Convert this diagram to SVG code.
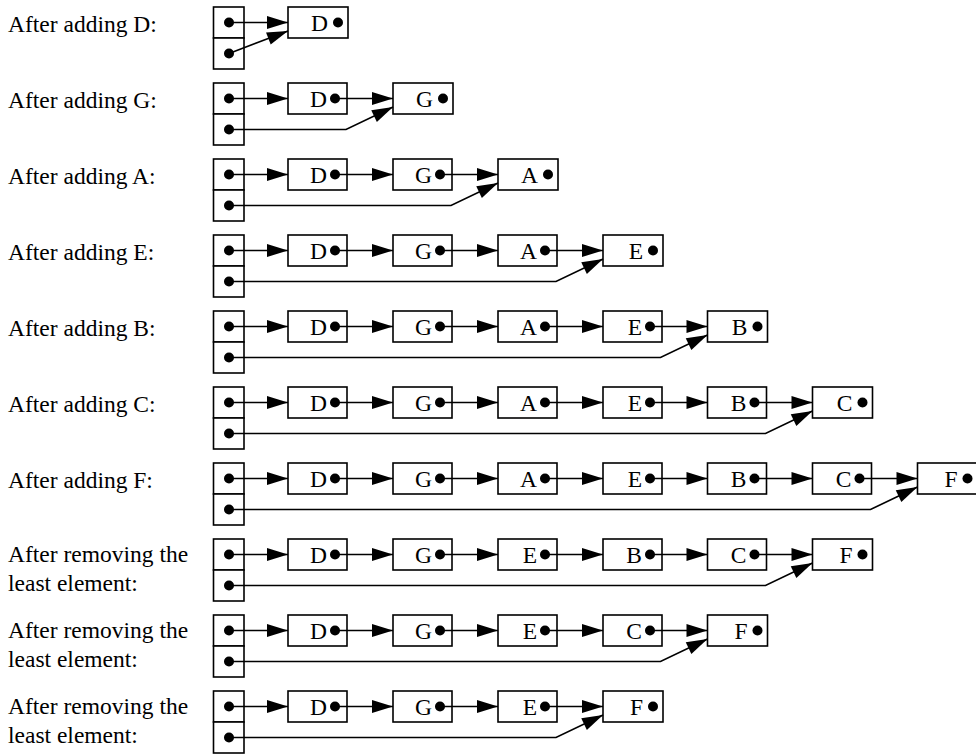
<svg xmlns="http://www.w3.org/2000/svg" width="976" height="756" viewBox="0 0 976 756">
<style>
text{font-family:"Liberation Serif","Times New Roman",serif;font-size:23.5px;fill:#000}
.lbl{text-anchor:start}
.key{text-anchor:end}
.box{fill:#fff;stroke:#000;stroke-width:1.6}
.dot{fill:#000}
.con{fill:none;stroke:#000;stroke-width:1.6;marker-end:url(#ah)}
</style>
<defs>
<marker id="ah" markerUnits="userSpaceOnUse" markerWidth="22" markerHeight="13" refX="21" refY="6.5" orient="auto" overflow="visible">
<path d="M0,0 L21,6.5 L0,13 Z" fill="#000"/>
</marker>
<g id="hdr">
<rect class="box" x="213.5" y="0" width="30.5" height="31"/>
<rect class="box" x="213.5" y="31" width="30.5" height="31"/>
<circle class="dot" cx="229" cy="15.5" r="5"/>
<circle class="dot" cx="229" cy="46.5" r="5"/>
</g>
</defs>

<!-- Row 1 -->
<g id="row1" transform="translate(0,7)">
<text class="lbl" x="8" y="25">After adding D:</text>
<g id="r1-head"><use href="#hdr"/></g>
<g id="r1-D"><rect class="box" x="288" y="0" width="60" height="31"/><text class="key" x="328" y="24">D</text><circle class="dot" cx="338" cy="15.5" r="5"/></g>
<g id="r1-connectors">
<line class="con" x1="229" y1="15.5" x2="288" y2="15.5"/>
<polyline class="con" points="229,46.5 288,24"/>
</g>
</g>

<!-- Row 2 -->
<g id="row2" transform="translate(0,83)">
<text class="lbl" x="8" y="25">After adding G:</text>
<g id="r2-head"><use href="#hdr"/></g>
<g id="r2-D"><rect class="box" x="288" y="0" width="59" height="31"/><text class="key" x="327" y="24">D</text><circle class="dot" cx="335" cy="15.5" r="5"/></g>
<g id="r2-G"><rect class="box" x="393" y="0" width="60" height="31"/><text class="key" x="433" y="24">G</text><circle class="dot" cx="443" cy="15.5" r="5"/></g>
<g id="r2-connectors">
<line class="con" x1="229" y1="15.5" x2="288" y2="15.5"/>
<line class="con" x1="335" y1="15.5" x2="393" y2="15.5"/>
<polyline class="con" points="229,46.5 346,46.5 393,24"/>
</g>
</g>

<!-- Row 3 -->
<g id="row3" transform="translate(0,159)">
<text class="lbl" x="8" y="25">After adding A:</text>
<g id="r3-head"><use href="#hdr"/></g>
<g id="r3-D"><rect class="box" x="288" y="0" width="59" height="31"/><text class="key" x="327" y="24">D</text><circle class="dot" cx="335" cy="15.5" r="5"/></g>
<g id="r3-G"><rect class="box" x="393" y="0" width="59" height="31"/><text class="key" x="432" y="24">G</text><circle class="dot" cx="440" cy="15.5" r="5"/></g>
<g id="r3-A"><rect class="box" x="498" y="0" width="60" height="31"/><text class="key" x="538" y="24">A</text><circle class="dot" cx="548" cy="15.5" r="5"/></g>
<g id="r3-connectors">
<line class="con" x1="229" y1="15.5" x2="288" y2="15.5"/>
<line class="con" x1="335" y1="15.5" x2="393" y2="15.5"/>
<line class="con" x1="440" y1="15.5" x2="498" y2="15.5"/>
<polyline class="con" points="229,46.5 451,46.5 498,24"/>
</g>
</g>

<!-- Row 4 -->
<g id="row4" transform="translate(0,235)">
<text class="lbl" x="8" y="25">After adding E:</text>
<g id="r4-head"><use href="#hdr"/></g>
<g id="r4-D"><rect class="box" x="288" y="0" width="59" height="31"/><text class="key" x="327" y="24">D</text><circle class="dot" cx="335" cy="15.5" r="5"/></g>
<g id="r4-G"><rect class="box" x="393" y="0" width="59" height="31"/><text class="key" x="432" y="24">G</text><circle class="dot" cx="440" cy="15.5" r="5"/></g>
<g id="r4-A"><rect class="box" x="498" y="0" width="59" height="31"/><text class="key" x="537" y="24">A</text><circle class="dot" cx="545" cy="15.5" r="5"/></g>
<g id="r4-E"><rect class="box" x="603" y="0" width="60" height="31"/><text class="key" x="643" y="24">E</text><circle class="dot" cx="653" cy="15.5" r="5"/></g>
<g id="r4-connectors">
<line class="con" x1="229" y1="15.5" x2="288" y2="15.5"/>
<line class="con" x1="335" y1="15.5" x2="393" y2="15.5"/>
<line class="con" x1="440" y1="15.5" x2="498" y2="15.5"/>
<line class="con" x1="545" y1="15.5" x2="603" y2="15.5"/>
<polyline class="con" points="229,46.5 556,46.5 603,24"/>
</g>
</g>

<!-- Row 5 -->
<g id="row5" transform="translate(0,311)">
<text class="lbl" x="8" y="25">After adding B:</text>
<g id="r5-head"><use href="#hdr"/></g>
<g id="r5-D"><rect class="box" x="288" y="0" width="59" height="31"/><text class="key" x="327" y="24">D</text><circle class="dot" cx="335" cy="15.5" r="5"/></g>
<g id="r5-G"><rect class="box" x="393" y="0" width="59" height="31"/><text class="key" x="432" y="24">G</text><circle class="dot" cx="440" cy="15.5" r="5"/></g>
<g id="r5-A"><rect class="box" x="498" y="0" width="59" height="31"/><text class="key" x="537" y="24">A</text><circle class="dot" cx="545" cy="15.5" r="5"/></g>
<g id="r5-E"><rect class="box" x="603" y="0" width="59" height="31"/><text class="key" x="642" y="24">E</text><circle class="dot" cx="650" cy="15.5" r="5"/></g>
<g id="r5-B"><rect class="box" x="707.5" y="0" width="60" height="31"/><text class="key" x="747.5" y="24">B</text><circle class="dot" cx="757.5" cy="15.5" r="5"/></g>
<g id="r5-connectors">
<line class="con" x1="229" y1="15.5" x2="288" y2="15.5"/>
<line class="con" x1="335" y1="15.5" x2="393" y2="15.5"/>
<line class="con" x1="440" y1="15.5" x2="498" y2="15.5"/>
<line class="con" x1="545" y1="15.5" x2="603" y2="15.5"/>
<line class="con" x1="650" y1="15.5" x2="707.5" y2="15.5"/>
<polyline class="con" points="229,46.5 660.5,46.5 707.5,24"/>
</g>
</g>

<!-- Row 6 -->
<g id="row6" transform="translate(0,387)">
<text class="lbl" x="8" y="25">After adding C:</text>
<g id="r6-head"><use href="#hdr"/></g>
<g id="r6-D"><rect class="box" x="288" y="0" width="59" height="31"/><text class="key" x="327" y="24">D</text><circle class="dot" cx="335" cy="15.5" r="5"/></g>
<g id="r6-G"><rect class="box" x="393" y="0" width="59" height="31"/><text class="key" x="432" y="24">G</text><circle class="dot" cx="440" cy="15.5" r="5"/></g>
<g id="r6-A"><rect class="box" x="498" y="0" width="59" height="31"/><text class="key" x="537" y="24">A</text><circle class="dot" cx="545" cy="15.5" r="5"/></g>
<g id="r6-E"><rect class="box" x="603" y="0" width="59" height="31"/><text class="key" x="642" y="24">E</text><circle class="dot" cx="650" cy="15.5" r="5"/></g>
<g id="r6-B"><rect class="box" x="707.5" y="0" width="59" height="31"/><text class="key" x="746.5" y="24">B</text><circle class="dot" cx="754.5" cy="15.5" r="5"/></g>
<g id="r6-C"><rect class="box" x="812.5" y="0" width="60" height="31"/><text class="key" x="852.5" y="24">C</text><circle class="dot" cx="862.5" cy="15.5" r="5"/></g>
<g id="r6-connectors">
<line class="con" x1="229" y1="15.5" x2="288" y2="15.5"/>
<line class="con" x1="335" y1="15.5" x2="393" y2="15.5"/>
<line class="con" x1="440" y1="15.5" x2="498" y2="15.5"/>
<line class="con" x1="545" y1="15.5" x2="603" y2="15.5"/>
<line class="con" x1="650" y1="15.5" x2="707.5" y2="15.5"/>
<line class="con" x1="754.5" y1="15.5" x2="812.5" y2="15.5"/>
<polyline class="con" points="229,46.5 765.5,46.5 812.5,24"/>
</g>
</g>

<!-- Row 7 -->
<g id="row7" transform="translate(0,463)">
<text class="lbl" x="8" y="25">After adding F:</text>
<g id="r7-head"><use href="#hdr"/></g>
<g id="r7-D"><rect class="box" x="288" y="0" width="59" height="31"/><text class="key" x="327" y="24">D</text><circle class="dot" cx="335" cy="15.5" r="5"/></g>
<g id="r7-G"><rect class="box" x="393" y="0" width="59" height="31"/><text class="key" x="432" y="24">G</text><circle class="dot" cx="440" cy="15.5" r="5"/></g>
<g id="r7-A"><rect class="box" x="498" y="0" width="59" height="31"/><text class="key" x="537" y="24">A</text><circle class="dot" cx="545" cy="15.5" r="5"/></g>
<g id="r7-E"><rect class="box" x="603" y="0" width="59" height="31"/><text class="key" x="642" y="24">E</text><circle class="dot" cx="650" cy="15.5" r="5"/></g>
<g id="r7-B"><rect class="box" x="707.5" y="0" width="59" height="31"/><text class="key" x="746.5" y="24">B</text><circle class="dot" cx="754.5" cy="15.5" r="5"/></g>
<g id="r7-C"><rect class="box" x="812.5" y="0" width="59" height="31"/><text class="key" x="851.5" y="24">C</text><circle class="dot" cx="859.5" cy="15.5" r="5"/></g>
<g id="r7-F"><rect class="box" x="917.5" y="0" width="60" height="31"/><text class="key" x="957.5" y="24">F</text><circle class="dot" cx="967.5" cy="15.5" r="5"/></g>
<g id="r7-connectors">
<line class="con" x1="229" y1="15.5" x2="288" y2="15.5"/>
<line class="con" x1="335" y1="15.5" x2="393" y2="15.5"/>
<line class="con" x1="440" y1="15.5" x2="498" y2="15.5"/>
<line class="con" x1="545" y1="15.5" x2="603" y2="15.5"/>
<line class="con" x1="650" y1="15.5" x2="707.5" y2="15.5"/>
<line class="con" x1="754.5" y1="15.5" x2="812.5" y2="15.5"/>
<line class="con" x1="859.5" y1="15.5" x2="917.5" y2="15.5"/>
<polyline class="con" points="229,46.5 870.5,46.5 917.5,24"/>
</g>
</g>

<!-- Row 8 -->
<g id="row8" transform="translate(0,539)">
<text class="lbl" x="8" y="23">After removing the</text>
<text class="lbl" x="8" y="52">least element:</text>
<g id="r8-head"><use href="#hdr"/></g>
<g id="r8-D"><rect class="box" x="288" y="0" width="59" height="31"/><text class="key" x="327" y="24">D</text><circle class="dot" cx="335" cy="15.5" r="5"/></g>
<g id="r8-G"><rect class="box" x="393" y="0" width="59" height="31"/><text class="key" x="432" y="24">G</text><circle class="dot" cx="440" cy="15.5" r="5"/></g>
<g id="r8-E"><rect class="box" x="498" y="0" width="59" height="31"/><text class="key" x="537" y="24">E</text><circle class="dot" cx="545" cy="15.5" r="5"/></g>
<g id="r8-B"><rect class="box" x="603" y="0" width="59" height="31"/><text class="key" x="642" y="24">B</text><circle class="dot" cx="650" cy="15.5" r="5"/></g>
<g id="r8-C"><rect class="box" x="707.5" y="0" width="59" height="31"/><text class="key" x="746.5" y="24">C</text><circle class="dot" cx="754.5" cy="15.5" r="5"/></g>
<g id="r8-F"><rect class="box" x="812.5" y="0" width="60" height="31"/><text class="key" x="852.5" y="24">F</text><circle class="dot" cx="862.5" cy="15.5" r="5"/></g>
<g id="r8-connectors">
<line class="con" x1="229" y1="15.5" x2="288" y2="15.5"/>
<line class="con" x1="335" y1="15.5" x2="393" y2="15.5"/>
<line class="con" x1="440" y1="15.5" x2="498" y2="15.5"/>
<line class="con" x1="545" y1="15.5" x2="603" y2="15.5"/>
<line class="con" x1="650" y1="15.5" x2="707.5" y2="15.5"/>
<line class="con" x1="754.5" y1="15.5" x2="812.5" y2="15.5"/>
<polyline class="con" points="229,46.5 765.5,46.5 812.5,24"/>
</g>
</g>

<!-- Row 9 -->
<g id="row9" transform="translate(0,615)">
<text class="lbl" x="8" y="23">After removing the</text>
<text class="lbl" x="8" y="52">least element:</text>
<g id="r9-head"><use href="#hdr"/></g>
<g id="r9-D"><rect class="box" x="288" y="0" width="59" height="31"/><text class="key" x="327" y="24">D</text><circle class="dot" cx="335" cy="15.5" r="5"/></g>
<g id="r9-G"><rect class="box" x="393" y="0" width="59" height="31"/><text class="key" x="432" y="24">G</text><circle class="dot" cx="440" cy="15.5" r="5"/></g>
<g id="r9-E"><rect class="box" x="498" y="0" width="59" height="31"/><text class="key" x="537" y="24">E</text><circle class="dot" cx="545" cy="15.5" r="5"/></g>
<g id="r9-C"><rect class="box" x="603" y="0" width="59" height="31"/><text class="key" x="642" y="24">C</text><circle class="dot" cx="650" cy="15.5" r="5"/></g>
<g id="r9-F"><rect class="box" x="707.5" y="0" width="60" height="31"/><text class="key" x="747.5" y="24">F</text><circle class="dot" cx="757.5" cy="15.5" r="5"/></g>
<g id="r9-connectors">
<line class="con" x1="229" y1="15.5" x2="288" y2="15.5"/>
<line class="con" x1="335" y1="15.5" x2="393" y2="15.5"/>
<line class="con" x1="440" y1="15.5" x2="498" y2="15.5"/>
<line class="con" x1="545" y1="15.5" x2="603" y2="15.5"/>
<line class="con" x1="650" y1="15.5" x2="707.5" y2="15.5"/>
<polyline class="con" points="229,46.5 660.5,46.5 707.5,24"/>
</g>
</g>

<!-- Row 10 -->
<g id="row10" transform="translate(0,691)">
<text class="lbl" x="8" y="23">After removing the</text>
<text class="lbl" x="8" y="52">least element:</text>
<g id="r10-head"><use href="#hdr"/></g>
<g id="r10-D"><rect class="box" x="288" y="0" width="59" height="31"/><text class="key" x="327" y="24">D</text><circle class="dot" cx="335" cy="15.5" r="5"/></g>
<g id="r10-G"><rect class="box" x="393" y="0" width="59" height="31"/><text class="key" x="432" y="24">G</text><circle class="dot" cx="440" cy="15.5" r="5"/></g>
<g id="r10-E"><rect class="box" x="498" y="0" width="59" height="31"/><text class="key" x="537" y="24">E</text><circle class="dot" cx="545" cy="15.5" r="5"/></g>
<g id="r10-F"><rect class="box" x="603" y="0" width="60" height="31"/><text class="key" x="643" y="24">F</text><circle class="dot" cx="653" cy="15.5" r="5"/></g>
<g id="r10-connectors">
<line class="con" x1="229" y1="15.5" x2="288" y2="15.5"/>
<line class="con" x1="335" y1="15.5" x2="393" y2="15.5"/>
<line class="con" x1="440" y1="15.5" x2="498" y2="15.5"/>
<line class="con" x1="545" y1="15.5" x2="603" y2="15.5"/>
<polyline class="con" points="229,46.5 556,46.5 603,24"/>
</g>
</g>
</svg>
